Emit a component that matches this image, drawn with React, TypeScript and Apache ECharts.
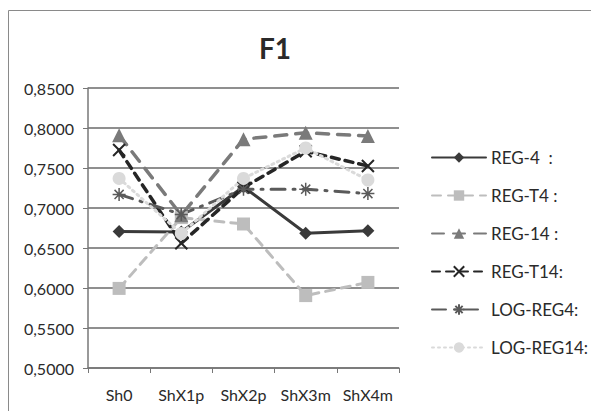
import React, { useEffect, useRef } from "react";
import * as echarts from "echarts";

const categories = ["Sh0", "ShX1p", "ShX2p", "ShX3m", "ShX4m"];
const seriesNames = ["REG-4  :", "REG-T4 :", "REG-14 :", "REG-T14:", "LOG-REG4:", "LOG-REG14:"];
const reg4 = [0.6705, 0.670, 0.7265, 0.6685, 0.6715];
const regT4 = [0.5995, 0.688, 0.680, 0.5905, 0.607];
const reg14 = [0.791, 0.691, 0.786, 0.794, 0.790];
const regT14 = [0.7725, 0.656, 0.7255, 0.771, 0.7525];
const logReg4 = [0.717, 0.692, 0.7235, 0.7235, 0.718];
const logReg14 = [0.737, 0.668, 0.737, 0.775, 0.735];
const yTicks = [0.5, 0.55, 0.6, 0.65, 0.7, 0.75, 0.8, 0.85];

const FONT = "Lato, 'Open Sans', sans-serif";
const crossPath = "path://M0,0L10,10M10,0L0,10";
const starPath = "path://M5,0L5,10M0,5L10,5M1.5,1.5L8.5,8.5M8.5,1.5L1.5,8.5";

export default function App() {
  const ref = useRef<HTMLDivElement>(null);
  useEffect(() => {
    if (!ref.current) return;
    const chart = echarts.init(ref.current, undefined, { renderer: "svg" });
    const line = (
      name: string,
      data: number[],
      color: string,
      width: number,
      type: any,
      symbol: string,
      size: number,
      itemStyle: any = {}
    ) => ({
      name,
      type: "line",
      data,
      symbol,
      symbolSize: size,
      lineStyle: { color, width, type, cap: "round" },
      itemStyle: { color, ...itemStyle },
      z: 3,
    });
    chart.setOption({
      animation: false,
      backgroundColor: "#ffffff",
      title: {
        text: "F1",
        left: 270,
        top: 29,
        textAlign: "center",
        textStyle: { fontFamily: FONT, fontSize: 28, fontWeight: "bold", color: "#2a2a2a" },
      },
      grid: { left: 88, right: 192, top: 88, bottom: 43, containLabel: false },
      legend: {
        orient: "vertical",
        left: 426,
        top: 144,
        itemWidth: 54,
        itemHeight: 13,
        itemGap: 21,
        textStyle: { fontFamily: FONT, fontSize: 17, color: "#2a2a2a" },
        data: seriesNames,
      },
      xAxis: {
        type: "category",
        data: categories,
        boundaryGap: true,
        axisLine: { lineStyle: { color: "#777", width: 1.5 } },
        axisTick: { show: true, length: 5, lineStyle: { color: "#777" } },
        axisLabel: { interval: 0, fontFamily: FONT, fontSize: 16, color: "#2a2a2a", margin: 18 },
      },
      yAxis: {
        type: "value",
        min: yTicks[0],
        max: yTicks[yTicks.length - 1],
        interval: 0.05,
        axisLine: { show: true, lineStyle: { color: "#777", width: 1.5 } },
        axisTick: { show: true, length: 5, lineStyle: { color: "#777" } },
        splitLine: { lineStyle: { color: "#6a6a6a", width: 1.5 } },
        axisLabel: {
          fontFamily: FONT,
          fontSize: 16,
          color: "#2a2a2a",
          margin: 14,
          formatter: (v: number) => v.toFixed(4).replace(".", ","),
        },
      },
      graphic: [
        {
          type: "polyline",
          shape: { points: [[8.5, 420], [8.5, 10.5], [600, 10.5]] },
          style: { stroke: "#8a8a8a", lineWidth: 1, fill: "none" },
          silent: true,
        },
      ],
      series: [
        line(seriesNames[0], reg4, "#3a3a3a", 3, "solid", "diamond", 13),
        line(seriesNames[1], regT4, "#bdbdbd", 3, [9, 7], "rect", 13),
        line(seriesNames[2], reg14, "#7a7a7a", 3.5, [12, 9], "triangle", 14),
        line(seriesNames[3], regT14, "#262626", 3.5, [8, 6], crossPath, 12, {
          color: "none",
          borderColor: "#262626",
          borderWidth: 2,
        }),
        line(seriesNames[4], logReg4, "#5a5a5a", 3, [14, 8, 2, 8], starPath, 13, {
          color: "none",
          borderColor: "#5a5a5a",
          borderWidth: 1.5,
        }),
        line(seriesNames[5], logReg14, "#dadada", 3, [2, 4], "circle", 13),
      ],
    });
    return () => chart.dispose();
  }, []);
  return (
    <div
      ref={ref}
      style={{ position: "fixed", left: 0, top: 0, width: 591, height: 411 }}
    />
  );
}
